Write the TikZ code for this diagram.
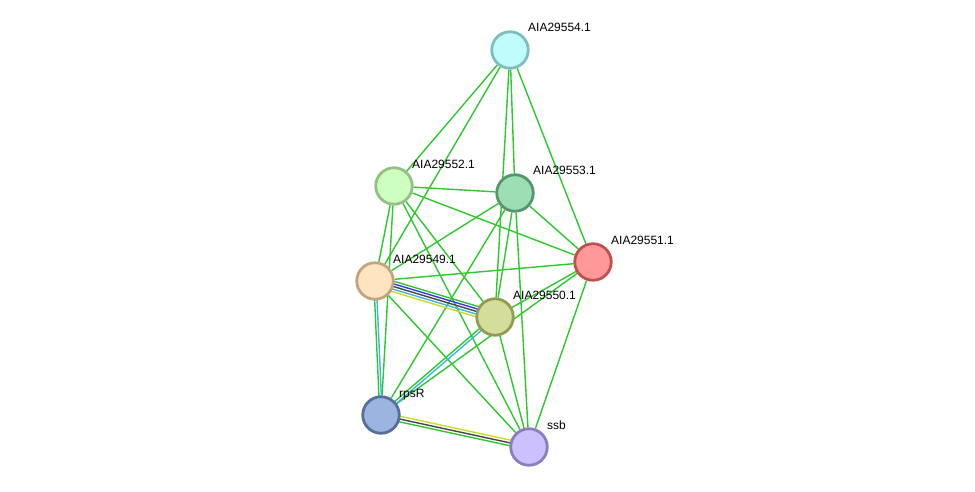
\documentclass[tikz,border=0pt]{standalone}
\usepackage{fontspec}
\setmainfont{Liberation Sans}
\usetikzlibrary{calc,backgrounds}
\definecolor{eg}{RGB}{45,200,45}
\definecolor{eblue}{RGB}{55,55,240}
\definecolor{egray}{RGB}{70,70,70}
\definecolor{ecyan}{RGB}{60,180,230}
\definecolor{eyel}{RGB}{200,220,40}
\newcommand\multiedge[4]{\draw[edge,#4] ($(#1.center)!#3!90:(#2.center)$) -- ($(#2.center)!#3!-90:(#1.center)$);}
\begin{document}
\begin{tikzpicture}[x=1pt,y=-1pt,
  prot/.style={circle,minimum size=36.5pt,inner sep=0pt,line width=2.8pt},
  lbl/.style={anchor=base west,font=\fontsize{12}{14}\selectfont,inner sep=0pt},
  edge/.style={line width=1.4pt,eg}]
\useasboundingbox (0,0) rectangle (975,492);
\node[prot,draw={rgb,255:red,125;green,190;blue,190},fill={rgb,255:red,192;green,252;blue,252}] (n554) at (510,50) {};
\node[prot,draw={rgb,255:red,150;green,190;blue,135},fill={rgb,255:red,205;green,255;blue,192}] (n552) at (394,186) {};
\node[prot,draw={rgb,255:red,85;green,150;blue,110},fill={rgb,255:red,157;green,222;blue,181}] (n553) at (515,193) {};
\node[prot,draw={rgb,255:red,190;green,80;blue,80},fill={rgb,255:red,255;green,153;blue,153}] (n551) at (593,262) {};
\node[prot,draw={rgb,255:red,192;green,165;blue,128},fill={rgb,255:red,255;green,228;blue,192}] (n549) at (375,281) {};
\node[prot,draw={rgb,255:red,145;green,155;blue,85},fill={rgb,255:red,212;green,222;blue,153}] (n550) at (495,317) {};
\node[prot,draw={rgb,255:red,85;green,110;blue,155},fill={rgb,255:red,155;green,180;blue,224}] (nrpsR) at (381,415) {};
\node[prot,draw={rgb,255:red,140;green,125;blue,190},fill={rgb,255:red,204;green,192;blue,255}] (nssb) at (529,447) {};
\node[lbl] (l554) at ($(n554)+(18,-18)$) {AIA29554.1};
\node[lbl] (l552) at ($(n552)+(18,-18)$) {AIA29552.1};
\node[lbl] (l553) at ($(n553)+(18,-18)$) {AIA29553.1};
\node[lbl] (l551) at ($(n551)+(18,-18)$) {AIA29551.1};
\node[lbl] (l549) at ($(n549)+(18,-18)$) {AIA29549.1};
\node[lbl] (l550) at ($(n550)+(18,-18)$) {AIA29550.1};
\node[lbl] (lrpsR) at ($(nrpsR)+(18,-18)$) {rpsR};
\node[lbl] (lssb) at ($(nssb)+(18,-18)$) {ssb};
\begin{scope}[on background layer]
\draw[edge] (n554) -- (n552);
\draw[edge] (n554) -- (n549);
\draw[edge] (n554) -- (n553);
\draw[edge] (n554) -- (n550);
\draw[edge] (n554) -- (n551);
\draw[edge] (n552) -- (n553);
\draw[edge] (n552) -- (n551);
\draw[edge] (n552) -- (n549);
\draw[edge] (n552) -- (nrpsR);
\draw[edge] (n552) -- (n550);
\draw[edge] (n552) -- (nssb);
\draw[edge] (n553) -- (n551);
\draw[edge] (n553) -- (n549);
\draw[edge] (n553) -- (nrpsR);
\draw[edge] (n553) -- (n550);
\draw[edge] (n553) -- (nssb);
\draw[edge] (n551) -- (n549);
\draw[edge] (n551) -- (n550);
\draw[edge] (n551) -- (nrpsR);
\draw[edge] (n551) -- (nssb);
\draw[edge] (n549) -- (nssb);
\draw[edge] (n550) -- (nssb);
\multiedge{n549}{n550}{5.2pt}{eg}
\multiedge{n549}{n550}{2.6pt}{eblue}
\multiedge{n549}{n550}{0pt}{egray}
\multiedge{n549}{n550}{-2.6pt}{ecyan}
\multiedge{n549}{n550}{-5.2pt}{eyel}
\multiedge{n549}{nrpsR}{-1.2pt}{eg}
\multiedge{n549}{nrpsR}{1.2pt}{ecyan}
\multiedge{n550}{nrpsR}{-1.3pt}{eg}
\multiedge{n550}{nrpsR}{1.3pt}{ecyan}
\multiedge{nrpsR}{nssb}{2.8pt}{eyel}
\multiedge{nrpsR}{nssb}{0pt}{egray}
\multiedge{nrpsR}{nssb}{-2.8pt}{eg}
\end{scope}
\end{tikzpicture}
\end{document}
